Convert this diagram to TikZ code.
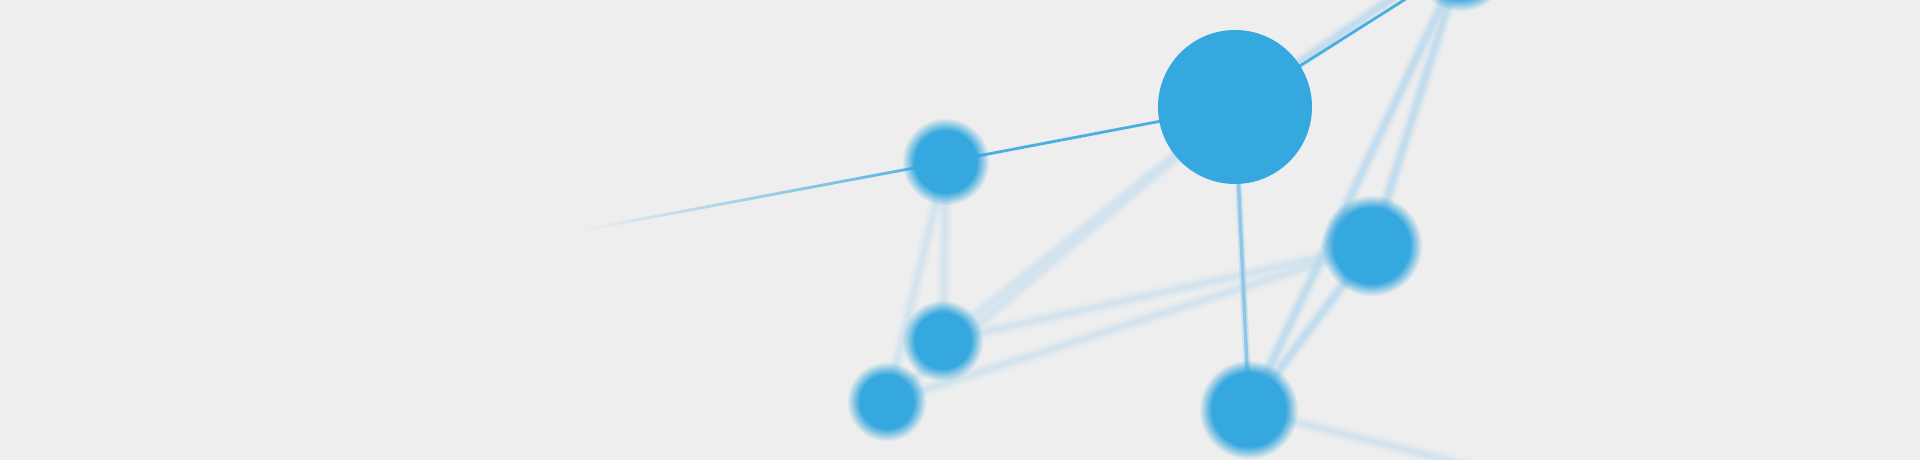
\documentclass[tikz,border=0pt]{standalone}
\usetikzlibrary{fadings}
\definecolor{bgc}{HTML}{EEEEEE}
\definecolor{nodeblue}{HTML}{36A8E0}
\definecolor{sharpblue}{HTML}{4AAEE3}
\definecolor{midblue}{HTML}{8CC7E9}
\definecolor{faintb}{HTML}{CFE3F0}
\definecolor{medb}{HTML}{BBDAEE}
\tikzfading[name=fadeleft, left color=transparent!100, middle color=transparent!40, right color=transparent!0]
\pgfdeclarelayer{back}
\pgfdeclarelayer{edges}
\pgfsetlayers{back,edges,main}
\tikzset{
  hub/.style={circle, inner sep=0pt, minimum size=#1, fill=nodeblue},
  spot/.style={circle, inner sep=0pt, minimum size=#1},
  softline/.style={draw=#1, line width=4.5pt, line cap=round, draw opacity=0.6,
    preaction={draw=#1, line width=8.5pt, draw opacity=0.45},
    preaction={draw=#1, line width=14pt, draw opacity=0.22}},
  midline/.style={draw=midblue, line width=3.4pt,
    preaction={draw=midblue, line width=7pt, draw opacity=0.3}},
  sharpline/.style={draw=sharpblue, line width=2.8pt},
}
% soft-edged disc: #1 centre, #2 radius at half intensity
\newcommand\blurdisc[2]{%
  \foreach \k in {1,...,10}{%
    \pgfmathsetmacro\myop{1/(11-\k)}%
    \pgfmathsetmacro\myrad{#2+6.5-1.3*\k}%
    \fill[nodeblue, fill opacity=\myop] (#1) circle [radius=\myrad pt];
  }%
}
\begin{document}
\begin{tikzpicture}[x=1pt,y=-1pt]
\useasboundingbox (0,0) rectangle (1920,460);
\begin{pgfonlayer}{back}
  \fill[bgc] (0,0) rectangle (1920,460);
\end{pgfonlayer}

% nodes
\node[hub=154pt] (A) at (1235,107) {};
\node[spot=76pt] (B) at (946,162) {};
\node[spot=70pt] (C) at (943,341) {};
\node[spot=68pt] (D) at (887,402) {};
\node[spot=90pt] (E) at (1372,246) {};
\node[spot=88pt] (F) at (1249,410) {};
\node[spot=84pt] (G) at (1461,-36) {};
\coordinate (Lend) at (583,230);
\coordinate (Aup) at (1500,-76);
\coordinate (Fout) at (1700,524);

\blurdisc{B.center}{38}
\blurdisc{C.center}{35}
\blurdisc{D.center}{34}
\blurdisc{E.center}{45}
\blurdisc{F.center}{44}
\blurdisc{G.center}{42}

\begin{pgfonlayer}{edges}
  \draw[softline=faintb] (B.center) -- (C.center);
  \draw[softline=faintb] (B.center) -- (D.center);
  \draw[softline=faintb] (C.center) -- (A.center);
  \draw[softline=faintb] (D.center) -- (A.center);
  \draw[softline=faintb] (C.center) -- (E.center);
  \draw[softline=faintb] (D.center) -- (E.center);
  \draw[softline=faintb] (F.center) -- (Fout);
  \draw[softline=medb] (G.center) -- (F.center);
  \draw[softline=medb] (G.center) -- (E.center);
  \draw[softline=medb] (E.center) -- (F.center);
  \draw[softline=medb] (A.center) -- (Aup);
  \draw[midline] (A.center) -- (F.center);
  \draw[sharpline] (A.center) -- (B.center);
  \draw[sharpline] (A.center) -- (G.center);
  \draw[sharpline, path fading=fadeleft] (B.center) -- (Lend);
\end{pgfonlayer}
\end{tikzpicture}
\end{document}
